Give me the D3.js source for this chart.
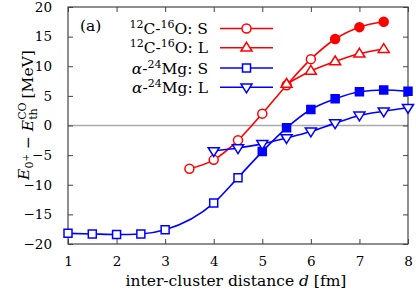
<!DOCTYPE html>
<html>
<head>
<meta charset="utf-8">
<script src="https://cdn.jsdelivr.net/npm/d3@7"></script>
<style>
  body { margin: 0; background: #fff; }
</style>
</head>
<body>
<div id="chart"></div>
<script>
// C-O S (red circles)
const coS_x = [3.5, 4.0, 4.5, 5.0, 5.5, 6.0, 6.5, 7.0, 7.5];
const coS_y = [-7.3, -5.8, -2.5, 2.0, 6.8, 11.2, 14.6, 16.6, 17.5];
const coS_filled = [false, false, false, false, false, false, true, true, true];
// C-O L (red up triangles)
const coL_x = [5.5, 6.0, 6.5, 7.0, 7.5];
const coL_y = [7.0, 9.2, 10.8, 12.1, 12.9];
// alpha-Mg S (blue squares)
const mgS_x = [1.0, 1.5, 2.0, 2.5, 3.0, 4.0, 4.5, 5.0, 5.5, 6.0, 6.5, 7.0, 7.5, 8.0];
const mgS_y = [-18.2, -18.3, -18.4, -18.3, -17.6, -13.1, -8.8, -4.4, -0.4, 2.7, 4.5, 5.7, 6.0, 5.8];
const mgS_filled = [false, false, false, false, false, false, false, true, true, true, true, true, true, true];
// alpha-Mg L (blue down triangles)
const mgL_x = [4.0, 4.5, 5.0, 5.5, 6.0, 6.5, 7.0, 7.5, 8.0];
const mgL_y = [-4.3, -3.8, -3.1, -2.1, -1.0, 0.4, 1.7, 2.4, 3.0];

const xTicks = [1, 2, 3, 4, 5, 6, 7, 8];
const yTicks = [-20, -15, -10, -5, 0, 5, 10, 15, 20];

const W = 416, H = 293;
const mLeft = 68, mRight = 408, mTop = 7, mBottom = 244;
const FONT = '"DejaVu Serif", serif';
const FS = 15.5;

const svg = d3.select('#chart').append('svg')
    .attr('width', W).attr('height', H)
    .attr('font-family', FONT);

const x = d3.scaleLinear().domain([1, 8]).range([mLeft, mRight]);
const y = d3.scaleLinear().domain([-20, 20]).range([mBottom, mTop]);

const frameColor = '#444';
const tickLen = 5;

// zero line
svg.append('line')
    .attr('x1', mLeft).attr('x2', mRight)
    .attr('y1', y(0)).attr('y2', y(0))
    .attr('stroke', '#aaa').attr('stroke-width', 1.5);

// ticks, inward on all four sides
const xAxisB = d3.axisBottom(x).tickValues(xTicks).tickSize(-tickLen).tickPadding(12).tickFormat(d3.format('d'));
const xAxisT = d3.axisTop(x).tickValues(xTicks).tickSize(-tickLen).tickFormat('');
const yAxisL = d3.axisLeft(y).tickValues(yTicks).tickSize(-tickLen).tickPadding(16)
    .tickFormat(d => d < 0 ? '\u2212' + Math.abs(d) : d);
const yAxisR = d3.axisRight(y).tickValues(yTicks).tickSize(-tickLen).tickFormat('');

function styleAxis(g) {
    g.attr('font-family', FONT).attr('font-size', 13.5);
    g.select('.domain').remove();
    g.selectAll('.tick line').attr('stroke', frameColor).attr('stroke-width', 1);
    g.selectAll('.tick text').attr('fill', '#000');
}
svg.append('g').attr('transform', `translate(0,${mBottom})`).call(xAxisB).call(styleAxis);
svg.append('g').attr('transform', `translate(0,${mTop})`).call(xAxisT).call(styleAxis);
svg.append('g').attr('transform', `translate(${mLeft},0)`).call(yAxisL).call(styleAxis);
svg.append('g').attr('transform', `translate(${mRight},0)`).call(yAxisR).call(styleAxis);

svg.append('rect')
    .attr('x', mLeft).attr('y', mTop)
    .attr('width', mRight - mLeft).attr('height', mBottom - mTop)
    .attr('fill', 'none').attr('stroke', frameColor).attr('stroke-width', 1.2);

// marker shapes
function markerPath(type, s) {
    if (type === 'circle') {
        return `M${s},0A${s},${s} 0 1,1 ${-s},0A${s},${s} 0 1,1 ${s},0Z`;
    } else if (type === 'square') {
        return `M${-s},${-s}H${s}V${s}H${-s}Z`;
    } else if (type === 'up') {
        const h = s * 1.15;
        return `M0,${-h}L${h},${h * 0.6}L${-h},${h * 0.6}Z`;
    } else {
        const h = s * 1.15;
        return `M0,${h}L${h},${-h * 0.6}L${-h},${-h * 0.6}Z`;
    }
}

const series = [
    { xs: coS_x, ys: coS_y, filled: coS_filled, color: '#ff0000', marker: 'circle', size: 4.5 },
    { xs: coL_x, ys: coL_y, filled: null, color: '#ff0000', marker: 'up', size: 4.8 },
    { xs: mgS_x, ys: mgS_y, filled: mgS_filled, color: '#0000ff', marker: 'square', size: 4 },
    { xs: mgL_x, ys: mgL_y, filled: null, color: '#0000ff', marker: 'down', size: 4.8 }
];

const line = d3.line()
    .x(d => x(d[0])).y(d => y(d[1]))
    .curve(d3.curveMonotoneX);

const plot = svg.append('g');
series.forEach(s => {
    const pts = s.xs.map((v, i) => [v, s.ys[i], s.filled ? s.filled[i] : false]);
    plot.append('path')
        .datum(pts)
        .attr('d', line)
        .attr('fill', 'none')
        .attr('stroke', s.color)
        .attr('stroke-width', 1.6);
    plot.selectAll(null)
        .data(pts)
        .enter().append('path')
        .attr('transform', d => `translate(${x(d[0])},${y(d[1])})`)
        .attr('d', markerPath(s.marker, s.size))
        .attr('fill', d => d[2] ? s.color : '#fff')
        .attr('stroke', s.color)
        .attr('stroke-width', 1.5);
});

// legend
const legendItems = [
    { parts: [['12', 'sup'], ['C-', ''], ['16', 'sup'], ['O: S', '']], color: '#ff0000', marker: 'circle', size: 4.5 },
    { parts: [['12', 'sup'], ['C-', ''], ['16', 'sup'], ['O: L', '']], color: '#ff0000', marker: 'up', size: 4.8 },
    { parts: [['\u03b1', 'it'], ['-', ''], ['24', 'sup'], ['Mg: S', '']], color: '#0000ff', marker: 'square', size: 4 },
    { parts: [['\u03b1', 'it'], ['-', ''], ['24', 'sup'], ['Mg: L', '']], color: '#0000ff', marker: 'down', size: 4.8 }
];
const legendY = [28.5, 47.8, 68, 87.3];
const lg = svg.append('g');
legendItems.forEach((item, i) => {
    const ly = legendY[i];
    const t = lg.append('text')
        .attr('x', 208).attr('y', ly + 5.5)
        .attr('text-anchor', 'end')
        .attr('font-size', FS);
    item.parts.forEach((p, j) => {
        const ts = t.append('tspan').text(p[0]);
        if (p[1] === 'sup') ts.attr('dy', -6).attr('font-size', 11);
        if (p[1] === 'it') ts.attr('font-style', 'italic');
        if (p[1] === '' && j > 0 && item.parts[j - 1][1] === 'sup') ts.attr('dy', 6);
    });
    lg.append('line')
        .attr('x1', 220).attr('x2', 273)
        .attr('y1', ly).attr('y2', ly)
        .attr('stroke', item.color).attr('stroke-width', 1.6);
    lg.append('path')
        .attr('transform', `translate(246.5,${ly})`)
        .attr('d', markerPath(item.marker, item.size))
        .attr('fill', '#fff')
        .attr('stroke', item.color)
        .attr('stroke-width', 1.5);
});

svg.append('text')
    .attr('x', 80).attr('y', 31)
    .attr('font-size', FS)
    .text('(a)');

// x axis title
const xt = svg.append('text')
    .attr('x', 236).attr('y', 286)
    .attr('text-anchor', 'middle')
    .attr('font-size', FS);
xt.append('tspan').text('inter-cluster distance ');
xt.append('tspan').text('d').attr('font-style', 'italic');
xt.append('tspan').text(' [fm]');

// y axis title: E_{0+} − E^{CO}_{th} [MeV]
const yt = svg.append('text')
    .attr('transform', `translate(29,115) rotate(-90)`)
    .attr('text-anchor', 'middle')
    .attr('font-size', FS);
yt.append('tspan').text('E').attr('font-style', 'italic');
yt.append('tspan').text('0').attr('dy', 4).attr('font-size', 11);
yt.append('tspan').text('+').attr('dy', -4).attr('font-size', 9);
yt.append('tspan').text(' \u2212 ').attr('dy', 4);
yt.append('tspan').text('E').attr('font-style', 'italic');
const co = yt.append('tspan').text('CO').attr('dy', -7).attr('font-size', 11);
const th = yt.append('tspan').text('th').attr('dy', 11).attr('font-size', 11);
const coW = co.node().getComputedTextLength();
const thW = th.node().getComputedTextLength();
th.attr('dx', -coW);
yt.append('tspan').text('[MeV]').attr('dx', coW - thW + 4).attr('dy', -4);
</script>
</body>
</html>
